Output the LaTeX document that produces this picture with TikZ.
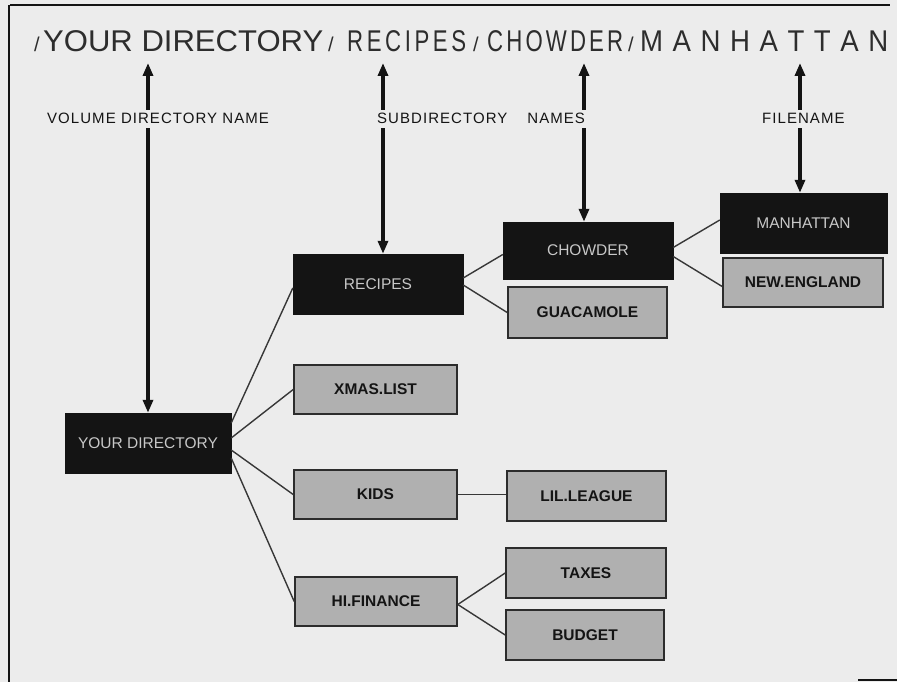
\documentclass[tikz,border=0pt]{standalone}
\usepackage{fontspec}
\setmainfont{Liberation Sans}
\newfontfamily\narrowfont[FakeStretch=0.74]{Liberation Sans}
\newfontfamily\semifont[FakeStretch=0.92]{Liberation Sans}
\newfontfamily\labelfont[LetterSpace=7]{Liberation Sans}
\usetikzlibrary{arrows.meta}
\definecolor{bg}{RGB}{236,236,236}
\definecolor{boxgray}{RGB}{176,176,176}
\definecolor{ink}{RGB}{20,20,20}
\definecolor{titleink}{RGB}{45,45,45}
\definecolor{dimwhite}{RGB}{200,200,200}
\newcommand\spreadword[2]{\makebox[#1][s]{#2}}
\begin{document}
\begin{tikzpicture}[x=1pt,y=-1pt,
  darkbox/.style={draw=ink, fill=ink, text=dimwhite, font=\fontsize{15.5}{16}\selectfont, inner sep=0pt},
  graybox/.style={draw=ink!90, line width=1.6pt, fill=boxgray, text=ink, font=\bfseries\fontsize{15.5}{16}\selectfont, inner sep=0pt},
  link/.style={draw=ink!85, line width=1.4pt},
  pointer/.style={line width=3.4pt, draw=ink, {Triangle[length=13pt,width=10pt]}-{Triangle[length=13pt,width=10pt]}},
  lbl/.style={font=\labelfont\fontsize{15}{16}\selectfont, text=ink, fill=bg, anchor=base west, inner xsep=1pt, inner ysep=4pt},
  ttl/.style={font=\fontsize{30}{34}\selectfont, text=titleink, anchor=base west, inner sep=0pt},
  slash/.style={font=\fontsize{20}{20}\selectfont, text=titleink, anchor=base west, inner sep=0pt},
  frame/.style={line width=2pt, draw=ink}
]
\fill[bg] (0,0) rectangle (897,682);
\useasboundingbox (0,0) rectangle (897,682);

% frame
\draw[frame] (10,5) -- (890,5);
\draw[frame] (9,5) -- (9,682);
\draw[frame] (858,680) -- (897,680);

% title
\node[slash] (s1) at (34,52) {/};
\node[ttl] (tyd) at (43,52) {\scalebox{1.035}[1]{YOUR DIRECTORY}};
\node[slash] (s2) at (328,52) {/};
\node[ttl] (trec) at (347,52) {\narrowfont\spreadword{119pt}{R\hfill E\hfill C\hfill I\hfill P\hfill E\hfill S}};
\node[slash] (s3) at (473,52) {/};
\node[ttl] (tcho) at (487,52) {\narrowfont\spreadword{136pt}{C\hfill H\hfill O\hfill W\hfill D\hfill E\hfill R}};
\node[slash] (s4) at (628,52) {/};
\node[ttl] (tman) at (640,52) {\semifont\spreadword{248pt}{M\hfill A\hfill N\hfill H\hfill A\hfill T\hfill T\hfill A\hfill N}};

% boxes
\node[darkbox, minimum width=166pt, minimum height=60pt] (YD) at (148,443) {YOUR DIRECTORY};
\node[darkbox, minimum width=170pt, minimum height=60pt] (RECIPES) at (378,284) {RECIPES};
\node[darkbox, minimum width=170pt, minimum height=57pt] (CHOWDER) at (588,250.5) {CHOWDER};
\node[darkbox, minimum width=167pt, minimum height=60pt] (MANHATTAN) at (803.5,223) {MANHATTAN};
\node[graybox, minimum width=159pt, minimum height=51pt] (GUAC) at (587.5,312.5) {GUACAMOLE};
\node[graybox, minimum width=160pt, minimum height=49pt] (NEWENG) at (803,282.5) {NEW.ENGLAND};
\node[graybox, minimum width=163pt, minimum height=49pt] (XMAS) at (375.5,389.5) {XMAS.LIST};
\node[graybox, minimum width=163pt, minimum height=49pt] (KIDS) at (375.5,494.5) {KIDS};
\node[graybox, minimum width=159pt, minimum height=50pt] (LIL) at (586.5,496) {LIL.LEAGUE};
\node[graybox, minimum width=162pt, minimum height=49pt] (HIFIN) at (376,601.5) {HI.FINANCE};
\node[graybox, minimum width=160pt, minimum height=50pt] (TAXES) at (586,573) {TAXES};
\node[graybox, minimum width=158pt, minimum height=50pt] (BUDGET) at (585,635) {BUDGET};

% links
\draw[link] ([yshift=20pt]YD.east) -- ([yshift=-4pt]RECIPES.west);
\draw[link] ([yshift=5pt]YD.east) -- (XMAS.west);
\draw[link] ([yshift=-7pt]YD.east) -- (KIDS.west);
\draw[link] ([yshift=-15pt]YD.east) -- (HIFIN.west);
\draw[link] ([yshift=6pt]RECIPES.east) -- ([yshift=-4pt]CHOWDER.west);
\draw[link] ([yshift=-1pt]RECIPES.east) -- (GUAC.west);
\draw[link] ([yshift=3pt]CHOWDER.east) -- ([yshift=3pt]MANHATTAN.west);
\draw[link] ([yshift=-6pt]CHOWDER.east) -- ([yshift=-4pt]NEWENG.west);
\draw[link] (KIDS.east) -- (KIDS.east -| LIL.west);
\draw[link] ([yshift=-3pt]HIFIN.east) -- (TAXES.west);
\draw[link] ([yshift=-3pt]HIFIN.east) -- (BUDGET.west);

% pointer arrows
\coordinate (a1) at (148,63);
\coordinate (a2) at (383,63);
\coordinate (a3) at (584,63);
\coordinate (a4) at (800,63);
\draw[pointer] (a1) -- (YD.north);
\draw[pointer] (a2) -- (a2 |- RECIPES.north);
\draw[pointer] (a3) -- (a3 |- CHOWDER.north);
\draw[pointer] (a4) -- (a4 |- MANHATTAN.north);

% labels
\node[lbl] (lvol) at (46,124) {VOLUME DIRECTORY NAME};
\node[lbl] (lsub) at (376,124) {SUBDIRECTORY\hspace{20pt}NAMES};
\node[lbl] (lfile) at (761,124) {FILENAME};
\end{tikzpicture}
\end{document}
